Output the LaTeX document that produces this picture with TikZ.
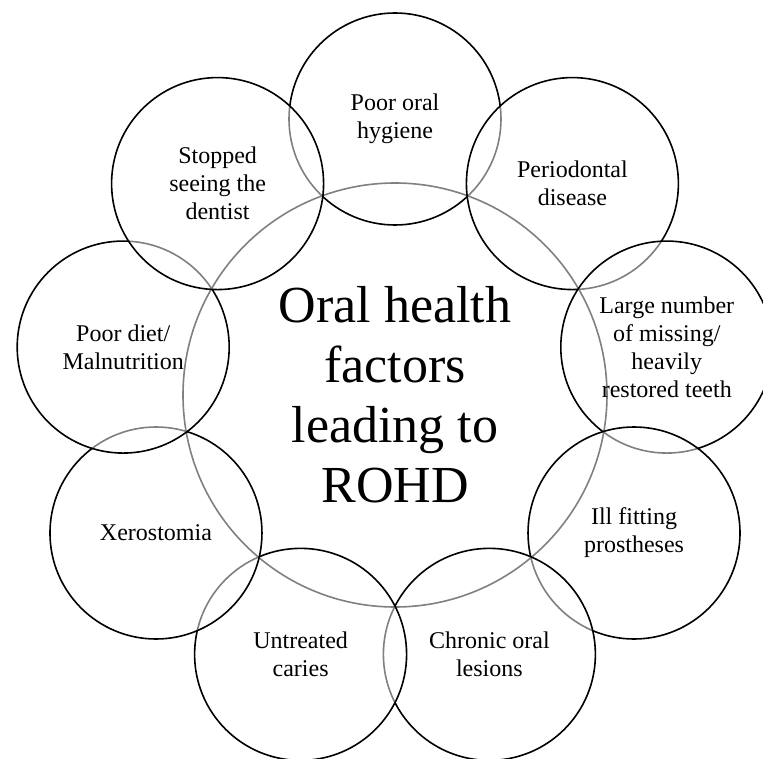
\documentclass[tikz,border=0pt]{standalone}
\usepackage{fontspec}
\setmainfont{Liberation Serif}

\begin{document}
\begin{tikzpicture}[x=1pt,y=1pt,
  hub/.style={circle,draw=black,line width=1.6pt,minimum size=424pt,inner sep=0pt,align=center,font=\fontsize{52}{60}\selectfont},
  factor/.style={circle,draw=black,line width=1.6pt,fill=white,fill opacity=.5,text opacity=1,minimum size=212pt,inner sep=0pt,align=center,font=\fontsize{24}{28}\selectfont}]
\useasboundingbox (-395,-363) rectangle (368,395);
\node[hub] (rohd) at (0,0) {Oral health\\factors\\leading to\\ROHD};
% clockwise from the top, each ring laid over the one before
\foreach \a/\n/\t in {90/hygiene/{Poor oral\\hygiene},50/perio/{Periodontal\\disease},10/missing/{Large number\\of missing/\\heavily\\restored teeth},-30/prosth/{Ill fitting\\prostheses},-70/lesions/{Chronic oral\\lesions},-110/caries/{Untreated\\caries},-150/xero/{Xerostomia},170/diet/{Poor diet/\\Malnutrition},130/dentist/{Stopped\\seeing the\\dentist}}
  \node[factor] (\n) at (\a:276) {\t};
\end{tikzpicture}
\end{document}
